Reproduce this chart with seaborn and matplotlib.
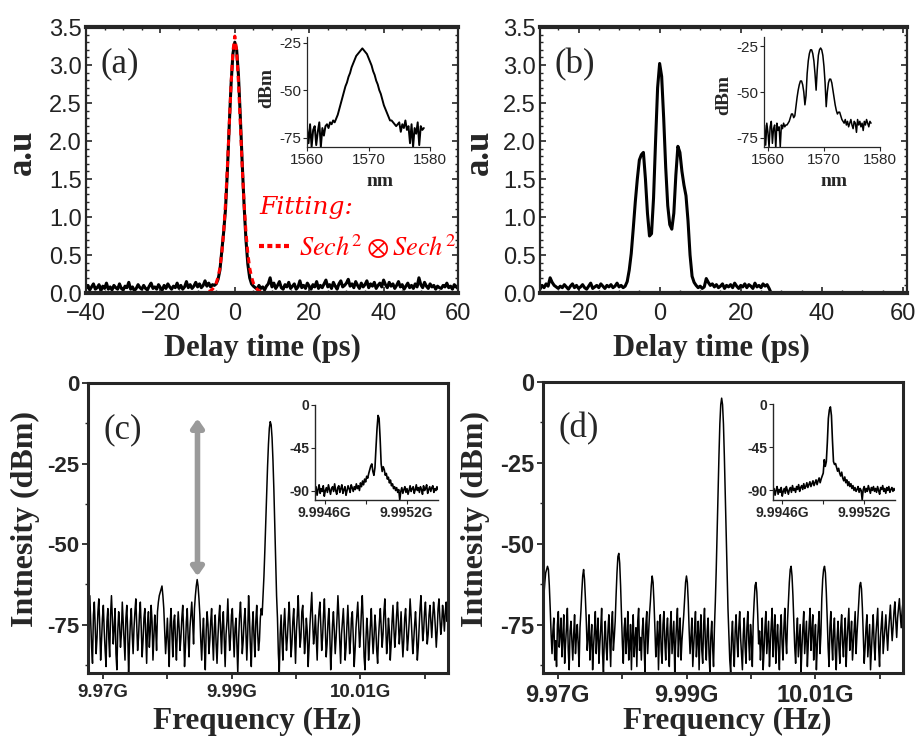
import numpy as np
import matplotlib
matplotlib.use("Agg")
import matplotlib.pyplot as plt
import seaborn as sns
from matplotlib.lines import Line2D
from matplotlib.ticker import MultipleLocator, FixedLocator, FuncFormatter

# ---------------- data ----------------
# (a) autocorrelation, delay grid -40 .. 60 ps, 0.5 ps step
delay_a_start = -40.0
signal_a = [
    0.06, 0.10, 0.04, 0.08, 0.12, 0.05, 0.07, 0.11, 0.03, 0.09,
    0.06, 0.13, 0.05, 0.08, 0.04, 0.10, 0.07, 0.05, 0.12, 0.06,
    0.04, 0.09, 0.07, 0.14, 0.05, 0.08, 0.03, 0.06, 0.11, 0.07,
    0.05, 0.10, 0.06, 0.04, 0.09, 0.13, 0.06, 0.08, 0.05, 0.11,
    0.07, 0.04, 0.10, 0.06, 0.12, 0.08, 0.05, 0.09, 0.07, 0.13,
    0.06, 0.10, 0.05, 0.08, 0.15, 0.07, 0.11, 0.06, 0.09, 0.14,
    0.08, 0.12, 0.07, 0.10, 0.16, 0.09, 0.13, 0.08, 0.11, 0.10,
    0.12, 0.18, 0.30, 0.55, 0.80, 1.10, 1.60, 2.20, 2.75, 3.15,
    3.30, 3.20, 2.85, 2.30, 1.70, 1.15, 0.70, 0.38, 0.20, 0.12, 0.09,
    0.07, 0.05, 0.10, 0.06, 0.08, 0.04, 0.09, 0.12, 0.20, 0.08,
    0.13, 0.06, 0.10, 0.15, 0.07, 0.05, 0.11, 0.08, 0.14, 0.06,
    0.09, 0.12, 0.05, 0.08, 0.16, 0.07, 0.10, 0.06, 0.13, 0.09,
    0.05, 0.11, 0.08, 0.15, 0.06, 0.10, 0.07, 0.12, 0.17, 0.08,
    0.11, 0.06, 0.14, 0.09, 0.05, 0.12, 0.16, 0.08, 0.10, 0.13,
    0.18, 0.09, 0.12, 0.07, 0.15, 0.10, 0.06, 0.13, 0.08, 0.11,
    0.16, 0.07, 0.12, 0.09, 0.14, 0.06, 0.10, 0.13, 0.08, 0.17,
    0.11, 0.07, 0.14, 0.09, 0.12, 0.06, 0.10, 0.15, 0.08, 0.11,
    0.05, 0.09, 0.13, 0.07, 0.10, 0.06, 0.12, 0.08, 0.20, 0.11,
    0.07, 0.14, 0.09, 0.06, 0.12, 0.08, 0.10, 0.05, 0.09, 0.07,
    0.06, 0.10, 0.08, 0.13, 0.07, 0.09, 0.05, 0.11, 0.08, 0.06,
]
# sech^2 fit, -7 .. 7 ps, 0.5 ps step
fit_start = -7.0
fit_a = [0.02, 0.03, 0.05, 0.08, 0.13, 0.21, 0.33, 0.52, 0.80, 1.18,
         1.65, 2.20, 2.75, 3.18, 3.38, 3.18, 2.75, 2.20, 1.65, 1.18,
         0.80, 0.52, 0.33, 0.21, 0.13, 0.08, 0.05, 0.03, 0.02]

# (b) autocorrelation, delay grid -30 .. 27.5 ps, 0.5 ps step
delay_b_start = -30.0
signal_b = [
    0.08, 0.05, 0.10, 0.07, 0.12, 0.09, 0.20, 0.14, 0.10, 0.08,
    0.06, 0.09, 0.07, 0.11, 0.08, 0.05, 0.09, 0.12, 0.07, 0.10,
    0.06, 0.08, 0.11, 0.07, 0.05, 0.09, 0.13, 0.06, 0.08, 0.10,
    0.07, 0.12, 0.09, 0.06, 0.10, 0.08, 0.11, 0.07, 0.09, 0.13,
    0.08, 0.10, 0.07, 0.09,
    0.15, 0.30, 0.52, 0.85, 1.20, 1.50, 1.75, 1.82, 1.85, 1.50,
    1.05, 0.75, 0.78, 1.25, 2.00, 2.70, 3.02, 2.85, 2.30, 1.65,
    1.15, 0.90, 0.84, 1.05, 1.55, 1.93, 1.85, 1.60, 1.42, 1.28,
    0.95, 0.50, 0.22, 0.14,
    0.10, 0.07, 0.09, 0.06, 0.08, 0.19, 0.14, 0.10, 0.12, 0.08,
    0.11, 0.07, 0.09, 0.12, 0.06, 0.10, 0.08, 0.11, 0.07, 0.13,
    0.09, 0.06, 0.10, 0.08, 0.12, 0.07, 0.11, 0.09, 0.06, 0.13,
    0.08, 0.10, 0.07, 0.12, 0.09, 0.11, 0.06, 0.0,
]

# optical spectra insets (nm, dBm)
wl_a_start, wl_a_step = 1560.0, 0.25
spec_a = [
    -70, -78, -68, -80, -71, -69, -79, -72, -67, -80, -70, -74,
    -69, -68, -70, -67, -68, -66, -67, -65,
    -63, -60, -57, -54, -51, -48, -46, -43, -41, -38,
    -36, -34, -32, -31, -30, -29, -28, -29, -30, -31,
    -33, -35, -37, -40, -42, -45, -47, -50, -52, -55,
    -58, -60, -62, -64, -66, -66, -67, -68, -69, -68,
    -67, -72, -68, -70, -66, -71, -69, -78,
    -68, -80, -70, -73, -67, -79, -69, -71, -70,
]
wl_b_start, wl_b_step = 1559.4, 0.2
spec_b = [
    -68, -79, -67, -72, -80, -69, -66, -78, -70, -68,
    -81, -67, -71, -69, -80, -68, -70, -67, -69, -68,
    -68, -67, -66, -64, -62, -62, -64, -63, -58, -53,
    -49, -46, -44, -44, -46, -50, -57, -52, -40, -33,
    -29, -27, -27, -29, -33, -40, -49, -38, -30, -27,
    -26, -27, -30, -36, -45, -58, -50, -45, -43, -43,
    -45, -49, -53, -57, -60, -62, -61, -61, -63, -65,
    -66, -67, -65, -68, -66, -69, -67, -65, -68, -70,
    -66, -67, -72, -65, -68, -66, -69, -67, -71, -66,
    -68, -65, -67, -69, -66, -67,
]

# RF spectra (GHz, dBm), span 9.9677 .. 10.0236 GHz, evenly sampled
rf_start, rf_stop = 9.9677, 10.0236
rf_c = [
    -70, -78, -66, -74, -82, -87, -72, -68, -76, -84, -79, -71, -67, -75, -86, -80, -73, -69, -77, -83,
    -88, -74, -70, -79, -85, -72, -66, -73, -81, -76, -70, -84, -89, -77, -71, -75, -82, -78, -68, -74,
    -80, -86, -73, -69, -77, -90, -81, -74, -70, -78, -84, -76, -71, -67, -75, -83, -79, -72, -68, -76,
    -85, -80, -73, -70, -78, -87, -75, -71, -82, -77, -69, -74, -86, -79, -72, -76, -83, -71, -68, -66,
    -65, -64, -63, -66, -70, -77, -84, -79, -73, -81, -88, -75, -70, -78, -85, -74, -72, -80, -86, -77,
    -71, -76, -83, -79, -73, -69, -77, -88, -82, -74, -70, -79, -85, -76, -72, -68, -74, -81, -70, -66,
    -63, -61, -63, -67, -72, -80, -86, -78, -73, -82, -89, -77, -71, -75, -84, -80, -74, -70, -79, -86,
    -76, -72, -81, -87, -79, -73, -69, -77, -84, -75, -71, -80, -88, -78, -74, -67, -76, -83, -79, -72,
    -70, -78, -85, -76, -73, -81, -90, -79, -72, -68, -75, -84, -80, -74, -70, -77, -86, -78, -66, -73,
    -82, -88, -76, -71, -79, -85, -74, -69, -77, -83, -80, -73, -70, -72, -66, -60, -52, -43, -34, -26,
    -19, -14, -12, -13, -17, -24, -33, -44, -56, -66, -73, -84, -90, -78, -72, -80, -86, -75, -70, -77,
    -83, -79, -73, -68, -76, -85, -81, -74, -70, -78, -87, -77, -72, -66, -75, -82, -79, -71, -69, -76,
    -84, -80, -73, -77, -88, -82, -75, -70, -65, -74, -81, -78, -72, -79, -86, -76, -71, -68, -75, -83,
    -79, -72, -67, -76, -85, -81, -74, -70, -78, -89, -83, -75, -71, -77, -84, -79, -73, -66, -72, -80,
    -87, -78, -74, -70, -77, -86, -82, -75, -69, -76, -84, -80, -73, -71, -79, -88, -83, -76, -72, -68,
    -75, -82, -78, -71, -66, -74, -85, -89, -80, -73, -77, -86, -81, -75, -70, -78, -84, -79, -72, -76,
    -83, -87, -79, -74, -70, -76, -82, -78, -71, -67, -75, -84, -80, -73, -77, -86, -81, -74, -69, -76,
    -82, -78, -72, -68, -74, -81, -77, -71, -79, -85, -80, -73, -70, -76, -83, -79, -74, -67, -72, -78,
    -84, -80, -75, -71, -77, -86, -82, -76, -70, -66, -73, -80, -77, -71, -68, -75, -81, -78, -72, -69,
    -74, -79, -73, -68, -71, -76, -82, -77, -70, -67, -73, -78, -75, -69, -72, -77, -71, -68, -74, -70,
]
rf_d = [
    -70, -66, -62, -59, -58, -57, -58, -63, -70, -78, -84, -77, -73, -86, -80, -88, -75, -71, -82, -78,
    -73, -85, -79, -72, -87, -81, -76, -70, -83, -89, -77, -74, -80, -86, -78, -72, -84, -79, -75, -81,
    -88, -76, -71, -65, -60, -58, -61, -67, -74, -83, -79, -72, -86, -80, -75, -89, -82, -77, -71, -84,
    -78, -73, -87, -81, -76, -70, -84, -90, -79, -74, -82, -86, -77, -72, -80, -88, -75, -71, -83, -79,
    -74, -66, -59, -54, -53, -56, -63, -72, -81, -87, -76, -73, -84, -79, -71, -86, -82, -75, -89, -78,
    -72, -85, -80, -76, -88, -74, -70, -83, -79, -86, -77, -73, -81, -90, -75, -71, -84, -78, -72, -68,
    -63, -60, -62, -68, -76, -85, -80, -74, -89, -78, -72, -83, -87, -75, -71, -80, -86, -77, -73, -82,
    -88, -76, -71, -84, -79, -74, -90, -81, -75, -70, -85, -78, -73, -86, -80, -76, -72, -67, -62, -60,
    -62, -68, -77, -84, -79, -73, -88, -82, -76, -71, -85, -80, -74, -89, -78, -72, -83, -87, -75, -70,
    -81, -86, -77, -73, -84, -90, -79, -74, -82, -88, -76, -68, -58, -46, -34, -23, -13, -7, -5, -7,
    -13, -23, -35, -48, -60, -70, -78, -86, -90, -79, -74, -83, -88, -77, -72, -80, -85, -76, -71, -79,
    -84, -89, -78, -73, -82, -87, -76, -71, -80, -86, -75, -79, -88, -74, -68, -63, -62, -65, -72, -81,
    -77, -86, -80, -73, -89, -83, -76, -71, -84, -79, -74, -88, -81, -75, -70, -85, -78, -72, -87, -80,
    -75, -83, -89, -77, -72, -81, -86, -76, -70, -79, -84, -74, -68, -62, -58, -57, -60, -66, -74, -82,
    -87, -78, -73, -85, -80, -75, -90, -82, -76, -71, -84, -79, -74, -88, -81, -75, -70, -83, -77, -72,
    -86, -80, -75, -89, -82, -76, -71, -84, -78, -67, -61, -58, -57, -59, -65, -73, -82, -88, -76, -71,
    -80, -86, -77, -73, -84, -89, -79, -74, -82, -87, -76, -72, -81, -85, -78, -73, -88, -80, -75, -70,
    -83, -79, -74, -86, -81, -76, -71, -84, -78, -73, -68, -63, -62, -64, -70, -79, -87, -82, -76, -72,
    -85, -80, -75, -89, -83, -77, -72, -81, -86, -78, -74, -70, -82, -88, -79, -75, -71, -84, -80, -76,
    -72, -78, -83, -77, -73, -69, -75, -80, -76, -71, -68, -74, -79, -73, -70, -67, -72, -76, -71, -68,
]

# zoomed RF insets, span 9.99453 .. 9.99543 GHz
zoom_start, zoom_stop = 9.99453, 9.99543
zoom_c = [
    -92, -86, -95, -89, -84, -93, -88, -91, -85, -96, -90, -87, -92, -84, -89, -94, -88, -86, -91, -83,
    -90, -94, -87, -85, -92, -88, -84, -93, -89, -86, -95, -90, -85, -88, -92, -84, -87, -91, -86, -89,
    -83, -88, -85, -90, -82, -86, -80, -84, -78, -81, -75, -77, -72, -68, -64, -62, -70, -74, -66, -45,
    -25, -11, -14, -35, -62, -70, -65, -68, -74, -72, -78, -76, -82, -79, -85, -83, -88, -86, -90, -87,
    -92, -89, -100, -91, -87, -93, -89, -86, -92, -88, -94, -90, -85, -91, -88, -86, -93, -89, -84, -90,
    -87, -92, -86, -89, -94, -85, -90, -88, -84, -93, -89, -86, -91, -87, -85, -92, -88, -90, -86, -89,
]
zoom_d = [
    -93, -88, -95, -90, -86, -94, -89, -92, -87, -96, -91, -88, -93, -86, -90, -94, -89, -87, -92, -85,
    -90, -88, -92, -86, -89, -84, -91, -87, -85, -89, -83, -88, -86, -82, -87, -84, -81, -86, -83, -80,
    -85, -82, -79, -84, -80, -77, -82, -78, -75, -72, -58, -65, -60, -40, -15, -6, -3, -12, -38, -60,
    -63, -62, -66, -70, -67, -72, -75, -71, -77, -80, -76, -82, -79, -85, -81, -86, -83, -88, -85, -90,
    -87, -91, -89, -86, -92, -88, -90, -100, -89, -86, -92, -88, -91, -85, -89, -93, -87, -90, -86, -91,
    -88, -92, -86, -90, -94, -87, -89, -85, -91, -88, -93, -87, -90, -86, -92, -89, -87, -91, -88, -90,
]

# grey double arrow in (c)
arrow_freq, arrow_top, arrow_bottom = 9.9847, -11, -60

# ---------------- figure ----------------
sns.set_style("ticks")
plt.rcParams['font.family'] = ['Liberation Sans', 'DejaVu Sans']
plt.rcParams['mathtext.fontset'] = 'stix'
SERIF = 'Liberation Serif'

W, H = 919, 740
fig = plt.figure(figsize=(W / 100, H / 100), dpi=100)


def box(l, t, r, b):
    return [l / W, 1 - b / H, (r - l) / W, (b - t) / H]


def grid(start, step, values):
    return start + step * np.arange(len(values))


def line(ax, x, y, **kw):
    sns.lineplot(x=x, y=y, ax=ax, estimator=None, sort=False, legend=False, **kw)


def style_delay(ax, xlim, tag, ylab_x, xlab_x):
    ax.set_xlim(*xlim)
    ax.set_ylim(0, 3.5)
    ax.xaxis.set_major_locator(MultipleLocator(20))
    ax.xaxis.set_minor_locator(MultipleLocator(5))
    ax.yaxis.set_major_locator(MultipleLocator(0.5))
    ax.yaxis.set_minor_locator(MultipleLocator(0.1))
    ax.yaxis.set_major_formatter(FuncFormatter(lambda v, p: f"{v:.1f}"))
    ax.tick_params(which='both', direction='in', top=True, right=True,
                   labelsize=17, labelcolor='#222222')
    ax.tick_params(axis='x', pad=7)
    ax.tick_params(axis='y', pad=3)
    ax.tick_params(which='major', length=4, width=1.2)
    ax.tick_params(which='minor', length=2, width=1)
    for s in ax.spines.values():
        s.set_linewidth(1.6)
    ax.spines['top'].set_linewidth(3)
    ax.spines['bottom'].set_linewidth(3)
    ax.set_xlabel('Delay time (ps)', family=SERIF, weight='bold', size=22)
    ax.set_ylabel('a.u', family=SERIF, weight='bold', size=25)
    ax.yaxis.set_label_coords(ylab_x, 0.53)
    ax.xaxis.set_label_coords(xlab_x, -0.155)
    ax.text(0.04, 0.86, tag, transform=ax.transAxes, family=SERIF,
            size=25, va='center')


def style_spec_inset(ax, xlim, ylim, dbm_x, dbm_y, nm_x):
    ax.set_xlim(*xlim)
    ax.set_ylim(*ylim)
    ax.set_xticks([1560, 1570, 1580])
    ax.set_yticks([-25, -50, -75])
    ax.yaxis.set_major_formatter(FuncFormatter(lambda v, p: f"{v:.0f}"))
    ax.tick_params(direction='out', length=3, width=0.8, labelsize=11, pad=1)
    for s in ['top', 'right']:
        ax.spines[s].set_visible(False)
    for s in ['left', 'bottom']:
        ax.spines[s].set_linewidth(0.9)
    ax.patch.set_alpha(0)
    ax.set_ylabel('dBm', family=SERIF, weight='bold', size=14)
    ax.set_xlabel('nm', family=SERIF, weight='bold', size=14)
    ax.yaxis.set_label_coords(dbm_x, dbm_y)
    ax.xaxis.set_label_coords(nm_x, -0.24)


def style_rf(ax, tag, xsize, ysize, ylab_x, xlab_x, xlab_y):
    ax.set_xlim(rf_start, rf_stop)
    ax.set_ylim(-90, 0)
    ax.xaxis.set_major_locator(MultipleLocator(0.01))
    ax.xaxis.set_major_formatter(FuncFormatter(
        lambda v, p: f"{v:g}G" if round(v * 100) % 2 == 1 else ""))
    ax.yaxis.set_major_locator(FixedLocator([0, -25, -50, -75]))
    ax.yaxis.set_minor_locator(FixedLocator([-12.5, -37.5, -62.5, -87.5]))
    ax.yaxis.set_major_formatter(FuncFormatter(lambda v, p: f"{v:.0f}"))
    ax.tick_params(axis='x', direction='out', length=4, width=1.3,
                   labelsize=xsize, pad=4)
    ax.tick_params(axis='y', direction='out', length=4, width=1.3,
                   labelsize=ysize, pad=2)
    ax.tick_params(which='minor', length=2, width=1)
    for lbl in ax.get_xticklabels() + ax.get_yticklabels():
        lbl.set_fontweight('bold')
    for s in ax.spines.values():
        s.set_linewidth(2.2)
    ax.set_ylabel('Intnesity (dBm)', family=SERIF, weight='bold', size=23)
    ax.set_xlabel('Frequency (Hz)', family=SERIF, weight='bold', size=22.5)
    ax.yaxis.set_label_coords(ylab_x, 0.53)
    ax.xaxis.set_label_coords(xlab_x, xlab_y)
    ax.text(0.042, 0.84, tag, transform=ax.transAxes, family=SERIF,
            size=25, va='center')


def style_zoom(ax):
    ax.set_xlim(zoom_start, zoom_stop)
    ax.set_ylim(-100, 0)
    ax.xaxis.set_major_locator(FixedLocator([9.9946, 9.9952]))
    ax.xaxis.set_minor_locator(FixedLocator([9.9949]))
    ax.xaxis.set_major_formatter(FuncFormatter(lambda v, p: f"{v:.4f}G"))
    ax.yaxis.set_major_locator(FixedLocator([0, -45, -90]))
    ax.yaxis.set_major_formatter(FuncFormatter(lambda v, p: f"{v:.0f}"))
    ax.tick_params(which='both', direction='out', length=3, width=0.8,
                   labelsize=10, pad=1)
    for lbl in ax.get_xticklabels() + ax.get_yticklabels():
        lbl.set_fontweight('bold')
    for s in ['top', 'right']:
        ax.spines[s].set_visible(False)
    for s in ['left', 'bottom']:
        ax.spines[s].set_linewidth(1.0)
    ax.patch.set_alpha(0)


# (a)
ax_a = fig.add_axes(box(86, 27, 458, 293))
line(ax_a, grid(delay_a_start, 0.5, signal_a), signal_a, color='black', lw=2.2)
line(ax_a, grid(fit_start, 0.5, fit_a), fit_a, color='red', lw=2.2,
     dashes=(2, 1.5))
style_delay(ax_a, (-40, 60), '(a)', -0.126, 0.473)
fit_handle = Line2D([], [], color='red', lw=3, ls=(0, (1.2, 0.8)))
leg = ax_a.legend([fit_handle], [r'$\mathit{Sech}^2 \otimes \mathit{Sech}^2$'],
                  title='Fitting:', loc='upper left',
                  bbox_to_anchor=(0.43, 0.415), frameon=False,
                  handlelength=1.2, handletextpad=0.3, borderpad=0,
                  alignment='left', fontsize=19, labelcolor='red')
leg.get_title().set_color('red')
leg.get_title().set_fontsize(18)
leg.get_title().set_fontstyle('italic')
leg.get_title().set_family('DejaVu Serif')

ins_a = fig.add_axes(box(307, 37, 430, 147))
line(ins_a, grid(wl_a_start, wl_a_step, spec_a), spec_a, color='black', lw=1.4)
style_spec_inset(ins_a, (1560, 1580), (-80, -22), -0.26, 0.54, 0.59)

# (b)
ax_b = fig.add_axes(box(540, 27, 907, 293))
line(ax_b, grid(delay_b_start, 0.5, signal_b), signal_b, color='black', lw=2.2)
style_delay(ax_b, (-29.5, 61), '(b)', -0.12, 0.466)

ins_b = fig.add_axes(box(764, 37, 880, 147))
line(ins_b, grid(wl_b_start, wl_b_step, spec_b), spec_b, color='black', lw=1.1)
style_spec_inset(ins_b, (1559.3, 1579.3), (-80, -20), -0.27, 0.47, 0.6)

# (c)
ax_c = fig.add_axes(box(88, 383, 448, 673))
line(ax_c, np.linspace(rf_start, rf_stop, len(rf_c)), rf_c, color='black', lw=1.1)
ax_c.annotate('', xy=(arrow_freq, arrow_bottom), xytext=(arrow_freq, arrow_top),
              arrowprops=dict(arrowstyle='<|-|>,head_length=0.5,head_width=0.35',
                              color='#9a9a9a', lw=4, shrinkA=0, shrinkB=0))
style_rf(ax_c, '(c)', 13.5, 16, -0.134, 0.47, -0.117)

ins_c = fig.add_axes(box(315, 405, 438, 500))
line(ins_c, np.linspace(zoom_start, zoom_stop, len(zoom_c)), zoom_c, color='black', lw=1.2)
style_zoom(ins_c)

# (d)
ax_d = fig.add_axes(box(543, 382, 903, 673))
line(ax_d, np.linspace(rf_start, rf_stop, len(rf_d)), rf_d, color='black', lw=1.1)
style_rf(ax_d, '(d)', 17, 17, -0.148, 0.511, -0.117)

ins_d = fig.add_axes(box(773, 404, 895, 500))
line(ins_d, np.linspace(zoom_start, zoom_stop, len(zoom_d)), zoom_d, color='black', lw=1.2)
style_zoom(ins_d)

fig.savefig('out.png', dpi=100)
